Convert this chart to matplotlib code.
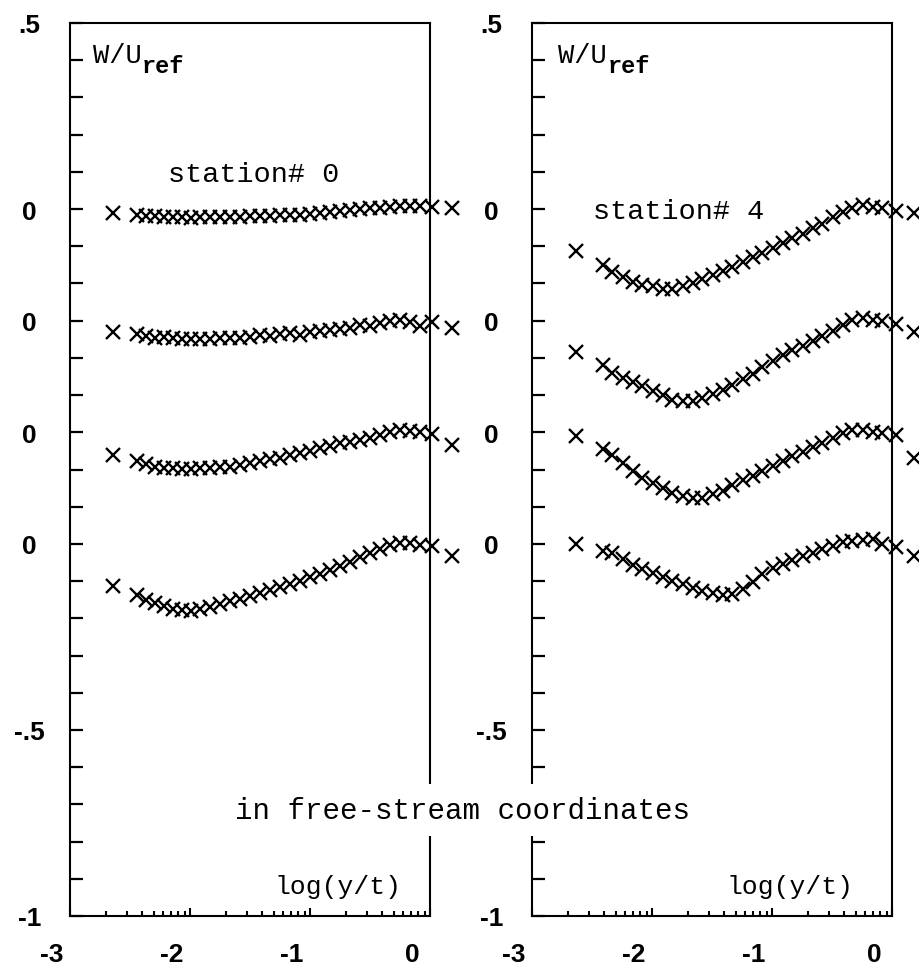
import numpy as np
import matplotlib
matplotlib.use("Agg")
import matplotlib.pyplot as plt
from matplotlib import transforms
from matplotlib import font_manager

plt.rcParams['axes.unicode_minus'] = False

# ---------------- data ----------------
# log(y/t) positions of measurement points
x_st0 = [-2.64, -2.44, -2.37, -2.29, -2.22, -2.14, -2.07, -1.99, -1.92, -1.83,
         -1.75, -1.67, -1.58, -1.50, -1.42, -1.33, -1.25, -1.17, -1.08, -1.00,
         -0.92, -0.83, -0.75, -0.67, -0.58, -0.50, -0.42, -0.33, -0.25, -0.17,
         -0.08, 0.02, 0.18]
x_st4 = [-2.63, -2.41, -2.33, -2.24, -2.16, -2.08, -1.99, -1.91, -1.83, -1.74,
         -1.66, -1.58, -1.49, -1.41, -1.33, -1.24, -1.16, -1.08, -0.99, -0.91,
         -0.83, -0.74, -0.66, -0.58, -0.49, -0.41, -0.33, -0.24, -0.16, -0.08,
         0.03, 0.18]

# W/U_ref profiles, station 0 (top to bottom)
st0_p1 = [-0.011, -0.016, -0.018, -0.020, -0.022, -0.022, -0.022, -0.023, -0.022, -0.022,
          -0.022, -0.021, -0.021, -0.020, -0.019, -0.018, -0.017, -0.016, -0.015, -0.013,
          -0.010, -0.007, -0.004, -0.002, 0.000, 0.002, 0.004, 0.006, 0.008, 0.008,
          0.007, 0.005, 0.002]
st0_p2 = [-0.030, -0.036, -0.042, -0.047, -0.045, -0.047, -0.048, -0.048, -0.048, -0.048,
          -0.047, -0.047, -0.046, -0.044, -0.038, -0.040, -0.036, -0.033, -0.038, -0.030,
          -0.027, -0.026, -0.022, -0.020, -0.012, -0.015, -0.006, -0.001, 0.001, -0.004,
          -0.014, -0.003, -0.020]
st0_p3 = [-0.062, -0.078, -0.086, -0.092, -0.096, -0.097, -0.098, -0.098, -0.097, -0.096,
          -0.094, -0.092, -0.088, -0.083, -0.078, -0.073, -0.068, -0.062, -0.056, -0.050,
          -0.043, -0.036, -0.030, -0.025, -0.020, -0.014, -0.008, 0.000, 0.006, 0.004,
          0.000, -0.004, -0.035]
st0_p4 = [-0.113, -0.137, -0.150, -0.160, -0.168, -0.174, -0.178, -0.179, -0.176, -0.169,
          -0.162, -0.154, -0.147, -0.139, -0.131, -0.124, -0.116, -0.108, -0.099, -0.090,
          -0.080, -0.070, -0.060, -0.048, -0.036, -0.024, -0.013, -0.004, 0.002, 0.002,
          -0.002, -0.006, -0.032]

# W/U_ref profiles, station 4 (top to bottom)
st4_p1 = [-0.113, -0.150, -0.170, -0.182, -0.196, -0.203, -0.208, -0.214, -0.215, -0.208,
          -0.199, -0.189, -0.178, -0.167, -0.155, -0.142, -0.128, -0.117, -0.104, -0.091,
          -0.079, -0.066, -0.052, -0.039, -0.022, -0.008, 0.004, 0.010, 0.006, 0.002,
          -0.004, -0.010]
st4_p2 = [-0.083, -0.118, -0.140, -0.155, -0.166, -0.176, -0.188, -0.200, -0.212, -0.217,
          -0.216, -0.207, -0.197, -0.187, -0.172, -0.157, -0.142, -0.125, -0.108, -0.093,
          -0.080, -0.067, -0.054, -0.040, -0.027, -0.012, 0.002, 0.006, 0.003, -0.002,
          -0.010, -0.030]
st4_p3 = [-0.011, -0.045, -0.060, -0.082, -0.105, -0.122, -0.136, -0.150, -0.162, -0.172,
          -0.177, -0.176, -0.167, -0.157, -0.143, -0.129, -0.117, -0.104, -0.091, -0.078,
          -0.065, -0.052, -0.040, -0.029, -0.016, -0.002, 0.006, 0.006, 0.002, -0.002,
          -0.007, -0.070]
st4_p4 = [0.000, -0.020, -0.024, -0.040, -0.058, -0.068, -0.078, -0.090, -0.100, -0.109,
          -0.118, -0.126, -0.133, -0.138, -0.134, -0.120, -0.102, -0.082, -0.065, -0.055,
          -0.044, -0.033, -0.024, -0.015, -0.005, 0.004, 0.008, 0.010, 0.012, 0.000,
          -0.008, -0.032]

profile_offsets = [0.9, 0.6, 0.3, 0.0]
ytick_vals = [-1.0, -0.5, 0.0, 0.3, 0.6, 0.9, 1.4]
ytick_text = ['-1', '-.5', '0', '0', '0', '0', '.5']
xtick_vals = [-3, -2, -1, 0]
xtick_text = ['-3', '-2', '-1', '0']
station_labels = ['station# 0', 'station# 4']

# ---------------- figure ----------------
W, H = 919, 970
fig = plt.figure(figsize=(W / 100, H / 100), dpi=100)

installed = {f.name for f in font_manager.fontManager.ttflist}
narrow = 'Liberation Sans Narrow' if 'Liberation Sans Narrow' in installed else 'Liberation Sans'
tick_font = dict(family=[narrow, 'DejaVu Sans'], weight='bold', size=19)
text_font = ['Liberation Mono', 'DejaVu Sans Mono']

panels = [
    (70, x_st0, [st0_p1, st0_p2, st0_p3, st0_p4], (-1.47, 0.995)),
    (532, x_st4, [st4_p1, st4_p2, st4_p3, st4_p4], (-1.775, 0.895)),
]

for i, (left_px, xs, profiles, st_pos) in enumerate(panels):
    ax = fig.add_axes([left_px / W, 1 - 917 / H, 360 / W, 893 / H])
    ax.set_xlim(-3, 0)
    ax.set_ylim(-1, 1.4)
    for sp in ax.spines.values():
        sp.set_linewidth(1.5)

    for off, prof in zip(profile_offsets, profiles):
        ax.plot(xs, np.asarray(prof) + off, linestyle='none', marker='x',
                color='black', markersize=9.5, markeredgewidth=1.7, clip_on=False)

    # y ticks every 0.1, labels at selected positions
    yt = np.round(np.arange(-1.0, 1.41, 0.1), 2)
    labels = []
    for v in yt:
        lab = ''
        for tv, tt in zip(ytick_vals, ytick_text):
            if abs(v - tv) < 1e-6:
                lab = tt
        labels.append(lab)
    ax.set_yticks(yt)
    ax.set_yticklabels(labels, **tick_font)
    ax.tick_params(axis='y', direction='in', length=9, width=1.6, pad=29,
                   left=True, right=False)
    for lbl in ax.get_yticklabels():
        lbl.set_horizontalalignment('center')

    # x: decades with log-style minor ticks
    ax.set_xticks(xtick_vals)
    ax.set_xticklabels(xtick_text, **tick_font)
    minor = [n + np.log10(k) for n in (-3, -2, -1) for k in range(2, 10)]
    ax.set_xticks(minor, minor=True)
    ax.tick_params(axis='x', which='major', direction='in', length=6, width=1.5,
                   pad=19, top=False)
    ax.tick_params(axis='x', which='minor', direction='in', length=3.5, width=1.5,
                   top=False)
    shift = transforms.ScaledTranslation(-0.18, 0, fig.dpi_scale_trans)
    for lbl in ax.get_xticklabels():
        lbl.set_transform(lbl.get_transform() + shift)

    # labels
    ax.text(-2.81 if i == 0 else -2.78, 1.296, 'W/U', family=text_font, size=19.5,
            ha='left', va='baseline')
    ax.text(-2.40 if i == 0 else -2.37, 1.268, 'ref', family=text_font, size=17,
            weight='bold', ha='left', va='baseline')
    ax.text(st_pos[0], st_pos[1], station_labels[i], family=text_font, size=20.5,
            ha='center', va='center')
    ax.text(-0.77 if i == 0 else -0.85, -0.92, 'log(y/t)', family=text_font, size=19,
            ha='center', va='center')

fig.text(462.5 / W, 1 - 811 / H, 'in free-stream coordinates', family=text_font,
         size=21, ha='center', va='center', zorder=10,
         bbox=dict(boxstyle='square,pad=0.4', facecolor='white', edgecolor='none'))

fig.savefig('out.png', dpi=100, facecolor='white')
